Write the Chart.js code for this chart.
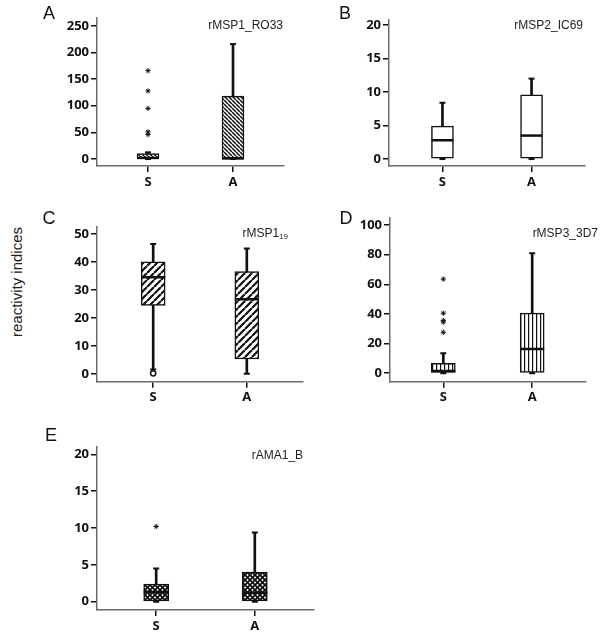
<!DOCTYPE html>
<html>
<head>
<meta charset="utf-8">
<script src="https://cdn.jsdelivr.net/npm/chart.js@4.4.0/dist/chart.umd.min.js"></script>
<style>
  html, body { margin: 0; padding: 0; background: #fff; }
  #figure { position: relative; width: 600px; height: 632px; overflow: hidden; font-family: 'Liberation Sans', Arial, sans-serif; }
  #figure canvas { position: absolute; left: 0; top: 0; }
  .panel-letter { position: absolute; font-size: 18px; line-height: 1; color: #111; transform: translate(-50%, -50%); }
  .antigen { position: absolute; font-size: 12px; line-height: 1; color: #222; transform: translateY(-50%); white-space: nowrap; }
  .antigen sub { font-size: 8px; vertical-align: -2px; }
  .y-title { position: absolute; left: 16px; top: 282px; font-size: 15px; line-height: 1; color: #222; white-space: nowrap; transform: translate(-50%, -50%) rotate(-90deg); }
</style>
</head>
<body>
<div id="figure">
  <div class="y-title">reactivity indices</div>
</div>
<script>
// groups on the x axis
const groups = ['S', 'A'];
const panelLetters = ['A', 'B', 'C', 'D', 'E'];
const antigenNames = ['rMSP1_RO33', 'rMSP2_IC69', 'rMSP1', 'rMSP3_3D7', 'rAMA1_B'];
const antigenSubs = ['', '', '19', '', ''];

// box statistics per panel, [S, A]
const mins    = [[0, 0],     [0, 0],     [1.6, 0],    [0, 0],     [0, 0]];
const q1s     = [[0, 0],     [0, 0],     [24.5, 5.3], [0.6, 0.6], [0, 0]];
const medians = [[2, 1],     [2.8, 3.5], [34.5, 26.7],[1.5, 16.4],[1.3, 1.2]];
const q3s     = [[10, 118],  [4.9, 9.6], [40, 36.6],  [6.7, 40.5],[2.4, 4.0]];
const maxs    = [[12.5, 216],[8.4, 12],  [46.4, 44.8],[13.5, 80.9],[4.5, 9.4]];

// extremes (*) and outliers (o), [S, A]
const extremes = [
  [[166, 128, 95, 51, 46], []],
  [[], []],
  [[], []],
  [[63.5, 40.5, 35.5, 34.5, 27.6], []],
  [[10.2], []]
];
const outliers = [
  [[], []],
  [[], []],
  [[0.2], []],
  [[], []],
  [[], []]
];

const yTicks = [
  [0, 50, 100, 150, 200, 250],
  [0, 5, 10, 15, 20],
  [0, 10, 20, 30, 40, 50],
  [0, 20, 40, 60, 80, 100],
  [0, 5, 10, 15, 20]
];

// where each panel sits on the page
const layout = [
  { left: 97,  right: 284, top: 18,    bottom: 166,   yMin: -13.2, yMax: 265,   boxW: 22, hatch: 'back',  letter: [49, 13],  titleRight: 317, titleY: 25 },
  { left: 389, right: 585, top: 20,    bottom: 166,   yMin: -1.04, yMax: 20.75, boxW: 22, hatch: 'none',  letter: [345, 13], titleRight: 17,  titleY: 25 },
  { left: 97,  right: 303, top: 226.7, bottom: 381.7, yMin: -2.8,  yMax: 52.6,  boxW: 24, hatch: 'fwd',   letter: [49, 218], titleRight: 312, titleY: 234 },
  { left: 390, right: 598, top: 218,   bottom: 381.7, yMin: -5.7,  yMax: 104.7, boxW: 24, hatch: 'vert',  letter: [346, 218], titleRight: 2,  titleY: 233 },
  { left: 97,  right: 314, top: 446.7, bottom: 610,   yMin: -1.13, yMax: 21.03, boxW: 25, hatch: 'cross', letter: [51, 435], titleRight: 297, titleY: 455 }
];

const ink = '#111';
const tickFont = { family: "'Open Sans', 'DejaVu Sans', sans-serif", size: 13, weight: 'bold' };
const fig = document.getElementById('figure');

function makeHatch(ctx, kind) {
  const s = { back: 4, fwd: 7, vert: 4, cross: 5, none: 4 }[kind];
  const tile = document.createElement('canvas');
  tile.width = s;
  tile.height = s;
  const g = tile.getContext('2d');
  g.fillStyle = '#fff';
  g.fillRect(0, 0, s, s);
  g.strokeStyle = ink;
  g.fillStyle = ink;
  if (kind === 'back' || kind === 'cross') {
    g.lineWidth = kind === 'back' ? 1.5 : 1.8;
    g.beginPath();
    [-s, 0, s].forEach(k => { g.moveTo(k, 0); g.lineTo(k + s, s); });
    g.stroke();
  }
  if (kind === 'fwd' || kind === 'cross') {
    g.lineWidth = kind === 'fwd' ? 2.2 : 1.8;
    g.beginPath();
    [-s, 0, s].forEach(k => { g.moveTo(k, s); g.lineTo(k + s, 0); });
    g.stroke();
  }
  if (kind === 'vert') {
    g.fillRect(0, 0, 1.2, s);
  }
  return ctx.createPattern(tile, 'repeat');
}

function addText(i) {
  const L = layout[i];
  const letter = document.createElement('div');
  letter.className = 'panel-letter';
  letter.style.left = L.letter[0] + 'px';
  letter.style.top = L.letter[1] + 'px';
  letter.textContent = panelLetters[i];
  fig.appendChild(letter);

  const title = document.createElement('div');
  title.className = 'antigen';
  title.style.right = L.titleRight + 'px';
  title.style.top = L.titleY + 'px';
  title.textContent = antigenNames[i];
  if (antigenSubs[i]) {
    const sub = document.createElement('sub');
    sub.textContent = antigenSubs[i];
    title.appendChild(sub);
  }
  fig.appendChild(title);
}

function drawPanel(i) {
  const L = layout[i];
  const xs = [1, 2];
  const canvas = document.createElement('canvas');
  canvas.width = 600;
  canvas.height = 632;
  fig.appendChild(canvas);
  const ctx = canvas.getContext('2d');

  const pts = arr => arr.map((v, j) => ({ x: xs[j], y: v }));
  const flat = lists => lists.flatMap((vals, j) => vals.map(v => ({ x: xs[j], y: v })));
  const axisBorder = { display: true, color: '#6b6b6b', width: 1.5 };

  new Chart(ctx, {
    type: 'bar',
    data: {
      datasets: [
        {
          label: 'whisker',
          data: xs.map((x, j) => ({ x, y: [mins[i][j], maxs[i][j]] })),
          backgroundColor: ink,
          barThickness: 2,
          grouped: false,
          order: 5
        },
        {
          label: 'box',
          data: xs.map((x, j) => ({ x, y: [q1s[i][j], q3s[i][j]] })),
          backgroundColor: makeHatch(ctx, L.hatch),
          borderColor: ink,
          borderWidth: 1.5,
          borderSkipped: false,
          barThickness: L.boxW,
          grouped: false,
          order: 4
        },
        {
          type: 'scatter',
          label: 'median',
          data: pts(medians[i]),
          pointStyle: 'line',
          radius: L.boxW / 2,
          borderColor: ink,
          borderWidth: 2.5,
          order: 3
        },
        {
          type: 'scatter',
          label: 'caps',
          data: [...pts(maxs[i]), ...pts(mins[i])],
          pointStyle: 'line',
          radius: 3,
          borderColor: ink,
          borderWidth: 2,
          order: 2
        },
        {
          type: 'scatter',
          label: 'extremes',
          data: flat(extremes[i]),
          pointStyle: 'star',
          radius: 2.6,
          borderColor: ink,
          borderWidth: 1,
          order: 1
        },
        {
          type: 'scatter',
          label: 'outliers',
          data: flat(outliers[i]),
          pointStyle: 'circle',
          radius: 2.6,
          backgroundColor: '#fff',
          borderColor: ink,
          borderWidth: 1.5,
          order: 0
        }
      ]
    },
    options: {
      responsive: false,
      animation: false,
      layout: {
        padding: { left: L.left - 40, right: 600 - L.right, top: L.top, bottom: 632 - L.bottom - 30 }
      },
      plugins: { legend: { display: false }, tooltip: { enabled: false } },
      scales: {
        x: {
          type: 'linear',
          min: 0.4,
          max: 2.6,
          offset: false,
          afterBuildTicks: s => { s.ticks = xs.map(v => ({ value: v })); },
          afterFit: s => { s.height = 30; },
          ticks: { callback: (v, k) => groups[k], font: tickFont, color: ink, padding: 2, maxRotation: 0, autoSkip: false },
          grid: { offset: false, drawOnChartArea: false, drawTicks: true, tickLength: 6, color: ink, lineWidth: 1.5 },
          border: axisBorder
        },
        y: {
          min: L.yMin,
          max: L.yMax,
          afterBuildTicks: s => { s.ticks = yTicks[i].map(v => ({ value: v })); },
          afterFit: s => { s.width = 40; },
          ticks: { font: tickFont, color: ink, padding: 2, autoSkip: false },
          grid: { drawOnChartArea: false, drawTicks: true, tickLength: 6, color: ink, lineWidth: 1.5 },
          border: axisBorder
        }
      }
    }
  });
}

layout.forEach((L, i) => {
  drawPanel(i);
  addText(i);
});
</script>
</body>
</html>
